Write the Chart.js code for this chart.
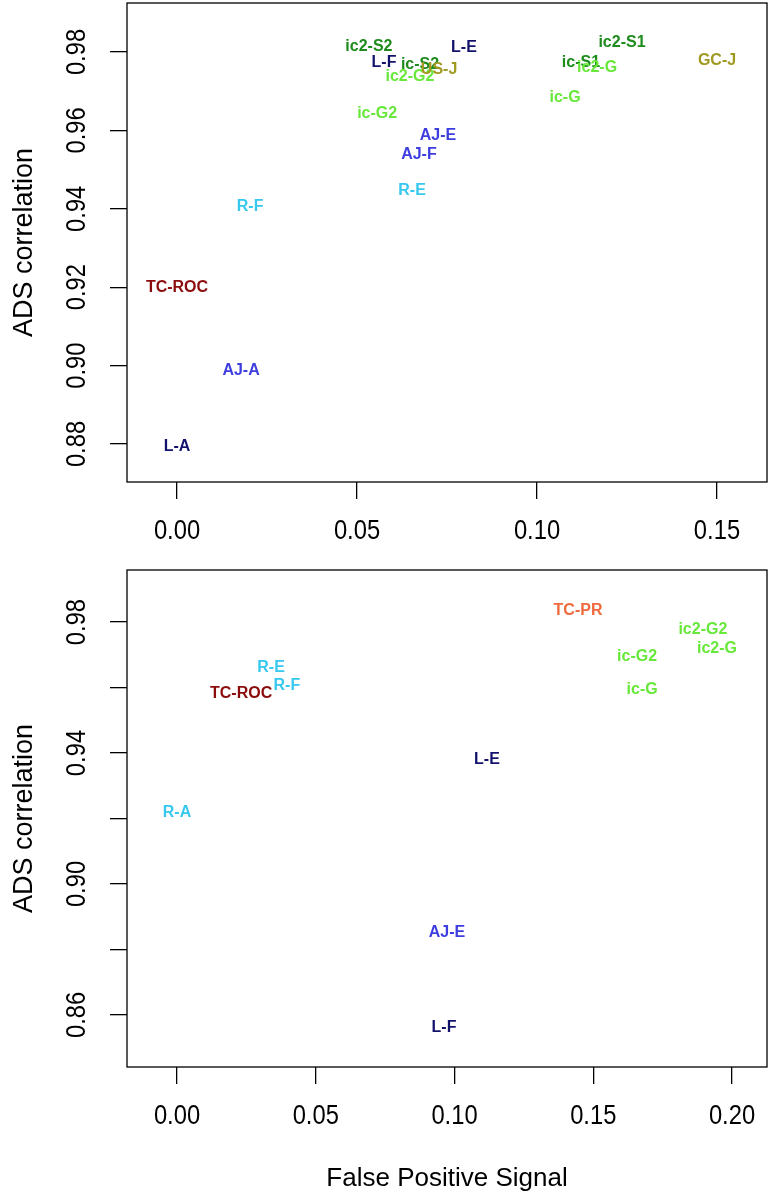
<!DOCTYPE html>
<html>
<head>
<meta charset="utf-8">
<script src="https://cdn.jsdelivr.net/npm/chart.js@4.4.1/dist/chart.umd.min.js"></script>
<style>
  body { margin: 0; background: #fff; }
  canvas { position: absolute; left: 0; }
  #topChart { top: 0; }
  #bottomChart { top: 560px; }
</style>
</head>
<body>
<canvas id="topChart" width="772" height="560"></canvas>
<canvas id="bottomChart" width="772" height="639"></canvas>
<script>
// Top panel data
const topNames = ['L-A', 'L-F', 'L-E', 'AJ-A', 'AJ-F', 'AJ-E', 'R-F', 'R-E', 'TC-ROC',
  'ic-S1', 'ic2-S1', 'ic2-S2', 'ic-S2', 'ic-G', 'ic-G2', 'ic2-G', 'ic2-G2', 'US-J', 'GC-J'];
const topFps = [0.0, 0.0575, 0.0797, 0.0178, 0.0672, 0.0725, 0.0203, 0.0653, 0.0,
  0.1122, 0.1236, 0.0533, 0.0675, 0.1078, 0.0556, 0.1167, 0.0647, 0.0728, 0.150];
const topCorr = [0.8793, 0.9774, 0.9810, 0.8987, 0.9537, 0.9586, 0.9405, 0.9446, 0.9198,
  0.9772, 0.9823, 0.9813, 0.9767, 0.9683, 0.9644, 0.9759, 0.9736, 0.9754, 0.9777];

// Bottom panel data
const bottomNames = ['L-F', 'L-E', 'AJ-E', 'R-A', 'R-E', 'R-F', 'TC-ROC', 'TC-PR',
  'ic-G', 'ic-G2', 'ic2-G', 'ic2-G2'];
const bottomFps = [0.0962, 0.1117, 0.0973, 0.0, 0.0339, 0.0396, 0.0231, 0.1445,
  0.1676, 0.1658, 0.1946, 0.1895];
const bottomCorr = [0.8560, 0.9379, 0.8851, 0.9217, 0.9660, 0.9605, 0.9583, 0.9834,
  0.9595, 0.9693, 0.9718, 0.9776];

// Tick values and labels
const xTicksTop = [0.00, 0.05, 0.10, 0.15];
const xTickLabelsTop = ['0.00', '0.05', '0.10', '0.15'];
const yTicksTop = [0.88, 0.90, 0.92, 0.94, 0.96, 0.98];
const yTickLabelsTop = ['0.88', '0.90', '0.92', '0.94', '0.96', '0.98'];
const xTicksBottom = [0.00, 0.05, 0.10, 0.15, 0.20];
const xTickLabelsBottom = ['0.00', '0.05', '0.10', '0.15', '0.20'];
const yTicksBottom = [0.86, 0.88, 0.90, 0.92, 0.94, 0.96, 0.98];
const yTickLabelsBottom = ['0.86', '', '0.90', '', '0.94', '', '0.98'];

// colour per method family
function colorFor(name) {
  if (name.startsWith('L-')) return '#12126c';
  if (name.startsWith('AJ-')) return '#3d3de0';
  if (name.startsWith('R-')) return '#36c8ee';
  if (name === 'TC-ROC') return '#8b0c0c';
  if (name === 'TC-PR') return '#ee6a3c';
  if (name.endsWith('-J')) return '#a09a22';
  if (name.includes('-S')) return '#1d8c1d';
  return '#68e83a';
}

const FONT = '"Liberation Sans", Arial, Helvetica, sans-serif';

// draws the method names at each point position
const textPoints = {
  id: 'textPoints',
  afterDatasetsDraw(chart, args, opts) {
    const ctx = chart.ctx;
    const meta = chart.getDatasetMeta(0);
    ctx.save();
    ctx.font = 'bold 16px ' + FONT;
    ctx.textAlign = 'center';
    ctx.textBaseline = 'middle';
    meta.data.forEach((pt, i) => {
      const name = opts.names[i];
      ctx.fillStyle = colorFor(name);
      ctx.fillText(name, pt.x, pt.y);
    });
    ctx.restore();
  }
};

// R style box, tick labels and axis titles
const rFrame = {
  id: 'rFrame',
  afterDraw(chart, args, opts) {
    const ctx = chart.ctx;
    const a = chart.chartArea;
    ctx.save();
    ctx.strokeStyle = '#000';
    ctx.lineWidth = 1.3;
    ctx.strokeRect(a.left, a.top, a.right - a.left, a.bottom - a.top);
    ctx.fillStyle = '#000';
    ctx.textAlign = 'center';
    ctx.textBaseline = 'middle';
    ctx.font = '27px ' + FONT;
    const xs = chart.scales.x;
    opts.xTicks.forEach((v, i) => {
      ctx.save();
      ctx.translate(xs.getPixelForValue(v), a.bottom + 50);
      ctx.scale(0.88, 1);
      ctx.fillText(opts.xLabels[i], 0, 0);
      ctx.restore();
    });
    const ys = chart.scales.y;
    opts.yTicks.forEach((v, i) => {
      if (!opts.yLabels[i]) return;
      ctx.save();
      ctx.translate(78, ys.getPixelForValue(v));
      ctx.rotate(-Math.PI / 2);
      ctx.scale(0.88, 1);
      ctx.fillText(opts.yLabels[i], 0, 0);
      ctx.restore();
    });
    ctx.font = '27px ' + FONT;
    ctx.save();
    ctx.textBaseline = 'alphabetic';
    ctx.translate(32, (a.top + a.bottom) / 2);
    ctx.rotate(-Math.PI / 2);
    ctx.fillText('ADS correlation', 0, 0);
    ctx.restore();
    if (opts.xTitle) {
      ctx.font = '26px ' + FONT;
      ctx.fillText(opts.xTitle, (a.left + a.right) / 2, a.bottom + 112);
    }
    ctx.restore();
  }
};

function makeChart(id, names, fps, corr, cfg) {
  const ctx = document.getElementById(id).getContext('2d');
  return new Chart(ctx, {
    type: 'scatter',
    data: {
      datasets: [{
        data: fps.map((x, i) => ({ x: x, y: corr[i] })),
        pointRadius: 0,
        pointHoverRadius: 0
      }]
    },
    options: {
      responsive: false,
      animation: false,
      events: [],
      layout: { padding: { left: 0, top: cfg.padTop, right: 5, bottom: 0 } },
      plugins: {
        legend: { display: false },
        tooltip: { enabled: false },
        textPoints: { names: names },
        rFrame: {
          xTicks: cfg.xTicks, xLabels: cfg.xLabels,
          yTicks: cfg.yTicks, yLabels: cfg.yLabels,
          xTitle: cfg.xTitle
        }
      },
      scales: {
        x: {
          type: 'linear',
          min: cfg.xMin, max: cfg.xMax,
          afterBuildTicks: s => { s.ticks = cfg.xTicks.map(v => ({ value: v })); },
          afterFit: s => { s.height = cfg.xHeight; },
          grid: { drawOnChartArea: false, drawTicks: true, tickLength: 17, color: '#000', lineWidth: 1.3 },
          border: { display: false },
          ticks: { display: false }
        },
        y: {
          type: 'linear',
          min: cfg.yMin, max: cfg.yMax,
          afterBuildTicks: s => { s.ticks = cfg.yTicks.map(v => ({ value: v })); },
          afterFit: s => { s.width = 127; },
          grid: { drawOnChartArea: false, drawTicks: true, tickLength: 17, color: '#000', lineWidth: 1.3 },
          border: { display: false },
          ticks: { display: false }
        }
      }
    },
    plugins: [textPoints, rFrame]
  });
}

makeChart('topChart', topNames, topFps, topCorr, {
  padTop: 3, xHeight: 78,
  xMin: -0.01389, xMax: 0.16389, yMin: 0.8703, yMax: 0.9925,
  xTicks: xTicksTop, xLabels: xTickLabelsTop,
  yTicks: yTicksTop, yLabels: yTickLabelsTop
});

makeChart('bottomChart', bottomNames, bottomFps, bottomCorr, {
  padTop: 10, xHeight: 132,
  xMin: -0.01802, xMax: 0.21261, yMin: 0.8441, yMax: 0.9959,
  xTicks: xTicksBottom, xLabels: xTickLabelsBottom,
  yTicks: yTicksBottom, yLabels: yTickLabelsBottom,
  xTitle: 'False Positive Signal'
});
</script>
</body>
</html>
